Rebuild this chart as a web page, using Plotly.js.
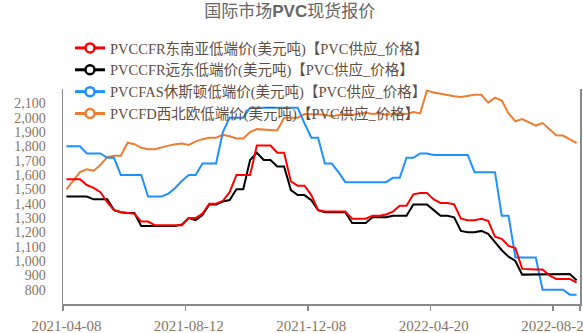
<!DOCTYPE html>
<html>
<head>
<meta charset="utf-8">
<script src="https://cdn.plot.ly/plotly-3.0.1.min.js"></script>
<style>
  html, body { margin: 0; padding: 0; background: #ffffff; }
  #chart { width: 583px; height: 333px; }
</style>
</head>
<body>
<div id="chart"></div>
<script>
// Weekly quote dates (category axis)
const dates = [
  "2021-04-08","2021-04-15","2021-04-22","2021-04-29","2021-05-06","2021-05-13","2021-05-20","2021-05-27",
  "2021-06-03","2021-06-10","2021-06-17","2021-06-24","2021-07-01","2021-07-08","2021-07-15","2021-07-22",
  "2021-07-29","2021-08-05","2021-08-12","2021-08-19","2021-08-26","2021-09-02","2021-09-09","2021-09-16",
  "2021-09-23","2021-09-29","2021-10-13","2021-10-20","2021-10-27","2021-11-03","2021-11-10","2021-11-17",
  "2021-11-24","2021-11-26","2021-12-01","2021-12-03","2021-12-08","2021-12-15","2021-12-22","2021-12-29",
  "2022-01-05","2022-01-12","2022-01-19","2022-01-26","2022-02-09","2022-02-16","2022-02-23","2022-03-02",
  "2022-03-09","2022-03-16","2022-03-23","2022-03-30","2022-04-06","2022-04-13","2022-04-20","2022-04-27",
  "2022-05-04","2022-05-11","2022-05-18","2022-05-25","2022-06-01","2022-06-08","2022-06-15","2022-06-22",
  "2022-06-29","2022-07-06","2022-07-13","2022-07-20","2022-07-27","2022-08-03","2022-08-10","2022-08-17",
  "2022-08-24","2022-08-31","2022-09-07","2022-09-14"
];

// PVC CFR Southeast Asia, low end (USD/t)
const cfrSEAsia = [
  1570,1570,1570,1530,1510,1480,1410,1355,1340,1335,1330,1275,1275,1250,1250,1250,
  1250,1250,1300,1300,1330,1400,1400,1420,1480,1600,1600,1600,1805,1805,1805,1755,
  1755,1555,1525,1525,1460,1355,1345,1345,1345,1345,1295,1295,1295,1315,1315,1325,
  1345,1385,1385,1465,1475,1475,1430,1405,1405,1395,1295,1285,1285,1295,1280,1170,
  1155,1105,1090,945,940,940,940,900,875,875,875,850
];

// PVC CFR Far East, low end (USD/t)
const cfrFarEast = [
  1450,1450,1450,1450,1430,1430,1430,1355,1340,1335,1335,1245,1245,1245,1245,1245,
  1245,1255,1300,1285,1320,1395,1395,1415,1425,1500,1500,1705,1755,1705,1705,1660,
  1660,1495,1460,1460,1425,1355,1340,1340,1340,1340,1265,1265,1265,1305,1305,1305,
  1315,1315,1315,1395,1395,1395,1355,1315,1315,1305,1210,1200,1200,1210,1190,1135,
  1075,1030,1000,905,905,905,910,910,910,910,910,865
];

// PVC FAS Houston, low end (USD/t)
const fasHouston = [
  1800,1800,1800,1750,1750,1750,1720,1720,1600,1600,1600,1600,1450,1450,1450,1470,
  1510,1560,1600,1600,1680,1680,1680,1900,2000,2000,2000,2070,2070,2070,2070,2070,
  2070,2070,2070,1960,1860,1860,1680,1680,1620,1550,1550,1550,1550,1550,1550,1550,
  1580,1580,1720,1720,1750,1750,1740,1740,1740,1740,1740,1740,1620,1620,1620,1620,
  1315,1315,1025,1025,1025,1025,800,800,800,800,765,765
];

// PVC FD Northwest Europe, low end (USD/t)
const fdNWEurope = [
  1500,1560,1620,1640,1630,1670,1725,1735,1735,1825,1815,1790,1780,1780,1795,1805,
  1815,1820,1810,1835,1850,1860,1860,1880,1870,1855,1855,1900,1920,1915,1915,1910,
  2000,2000,2000,2025,2025,2020,2020,2010,2015,2025,2020,2030,2035,2025,2030,2020,
  2025,2030,2025,2040,2030,2190,2175,2165,2160,2150,2145,2155,2160,2160,2105,2140,
  2120,2030,1975,1990,1965,1945,1962,1920,1878,1875,1850,1822
];

const seriesNames = [
  "PVCCFR东南亚低端价(美元吨)【PVC供应_价格】",
  "PVCCFR远东低端价(美元吨)【PVC供应_价格】",
  "PVCFAS休斯顿低端价(美元吨)【PVC供应_价格】",
  "PVCFD西北欧低端价(美元吨)【PVC供应_价格】"
];
const seriesColors = ["#ff0000", "#000000", "#1e90ff", "#ed7d31"];
const seriesValues = [cfrSEAsia, cfrFarEast, fasHouston, fdNWEurope];

// Axis labels
const xLabelDates = ["2021-04-08", "2021-08-12", "2021-12-08", "2022-04-20", "2022-08-24"];
const yTicks = [800, 900, 1000, 1100, 1200, 1300, 1400, 1500, 1600, 1700, 1800, 1900, 2000, 2100];

const labelFont = "Liberation Serif, 'Noto Sans CJK SC', serif";
const axisGray = "#8a8a8a";

const traces = [];
// Plotted lines (drawn bottom to top: orange, blue, black, red)
for (let k = seriesValues.length - 1; k >= 0; k--) {
  traces.push({
    type: "scatter",
    mode: "lines",
    x: dates,
    y: seriesValues[k],
    line: { color: seriesColors[k], width: 2 },
    showlegend: false,
    hoverinfo: "skip"
  });
}
// Legend entries: line with a hollow ring marker
for (let k = 0; k < seriesNames.length; k++) {
  traces.push({
    type: "scatter",
    mode: "lines+markers",
    x: [null],
    y: [null],
    xaxis: "x2",
    name: seriesNames[k],
    line: { color: seriesColors[k], width: 3 },
    marker: { symbol: "circle", size: 9, color: "#ffffff", line: { color: seriesColors[k], width: 2.5 } },
    showlegend: true
  });
}

// Boundary tick positions between categories
const n = dates.length;
const boundaryTicks = [];
for (const d of xLabelDates) boundaryTicks.push(dates.indexOf(d) - 0.5);
boundaryTicks.push(n - 0.5);

const layout = {
  width: 583,
  height: 333,
  margin: { l: 63, r: 3, t: 89, b: 29 },
  paper_bgcolor: "#ffffff",
  plot_bgcolor: "#ffffff",
  showlegend: true,
  title: {
    text: "国际市场<b>PVC</b>现货报价",
    font: { family: "Liberation Sans, 'Noto Sans CJK SC', sans-serif", size: 17, color: "#666666" },
    x: 0.497,
    xref: "container",
    xanchor: "center",
    y: 1 - 11 / 333,
    yref: "container",
    yanchor: "middle"
  },
  xaxis: {
    type: "category",
    range: [-0.5, n - 0.5],
    tickmode: "array",
    tickvals: xLabelDates,
    ticktext: xLabelDates,
    ticks: "",
    ticklabelstandoff: 7,
    showgrid: false,
    zeroline: false,
    showline: true,
    linecolor: axisGray,
    linewidth: 1.5,
    tickfont: { family: labelFont, size: 15, color: "#857565" },
    fixedrange: true
  },
  xaxis2: {
    overlaying: "x",
    type: "linear",
    range: [-0.5, n - 0.5],
    tickmode: "array",
    tickvals: boundaryTicks,
    ticks: "outside",
    ticklen: 6,
    tickwidth: 1.5,
    tickcolor: axisGray,
    showticklabels: false,
    showgrid: false,
    zeroline: false,
    showline: false,
    side: "bottom",
    fixedrange: true
  },
  yaxis: {
    range: [700, 2200],
    tickmode: "array",
    tickvals: yTicks,
    tickformat: ",d",
    ticks: "",
    ticklabelstandoff: 13,
    showgrid: false,
    zeroline: false,
    showline: true,
    mirror: true,
    linecolor: axisGray,
    linewidth: 1.5,
    tickfont: { family: labelFont, size: 14, color: "#857565" },
    fixedrange: true
  },
  legend: {
    x: (70 - 63) / 517,
    xanchor: "left",
    y: (304 - 32) / 215,
    yanchor: "top",
    bgcolor: "rgba(0,0,0,0)",
    borderwidth: 0,
    font: { family: labelFont, size: 14.5, color: "#5e4e44" },
    tracegroupgap: 0
  }
};

Plotly.newPlot("chart", traces, layout, { staticPlot: true, displayModeBar: false });
</script>
</body>
</html>
